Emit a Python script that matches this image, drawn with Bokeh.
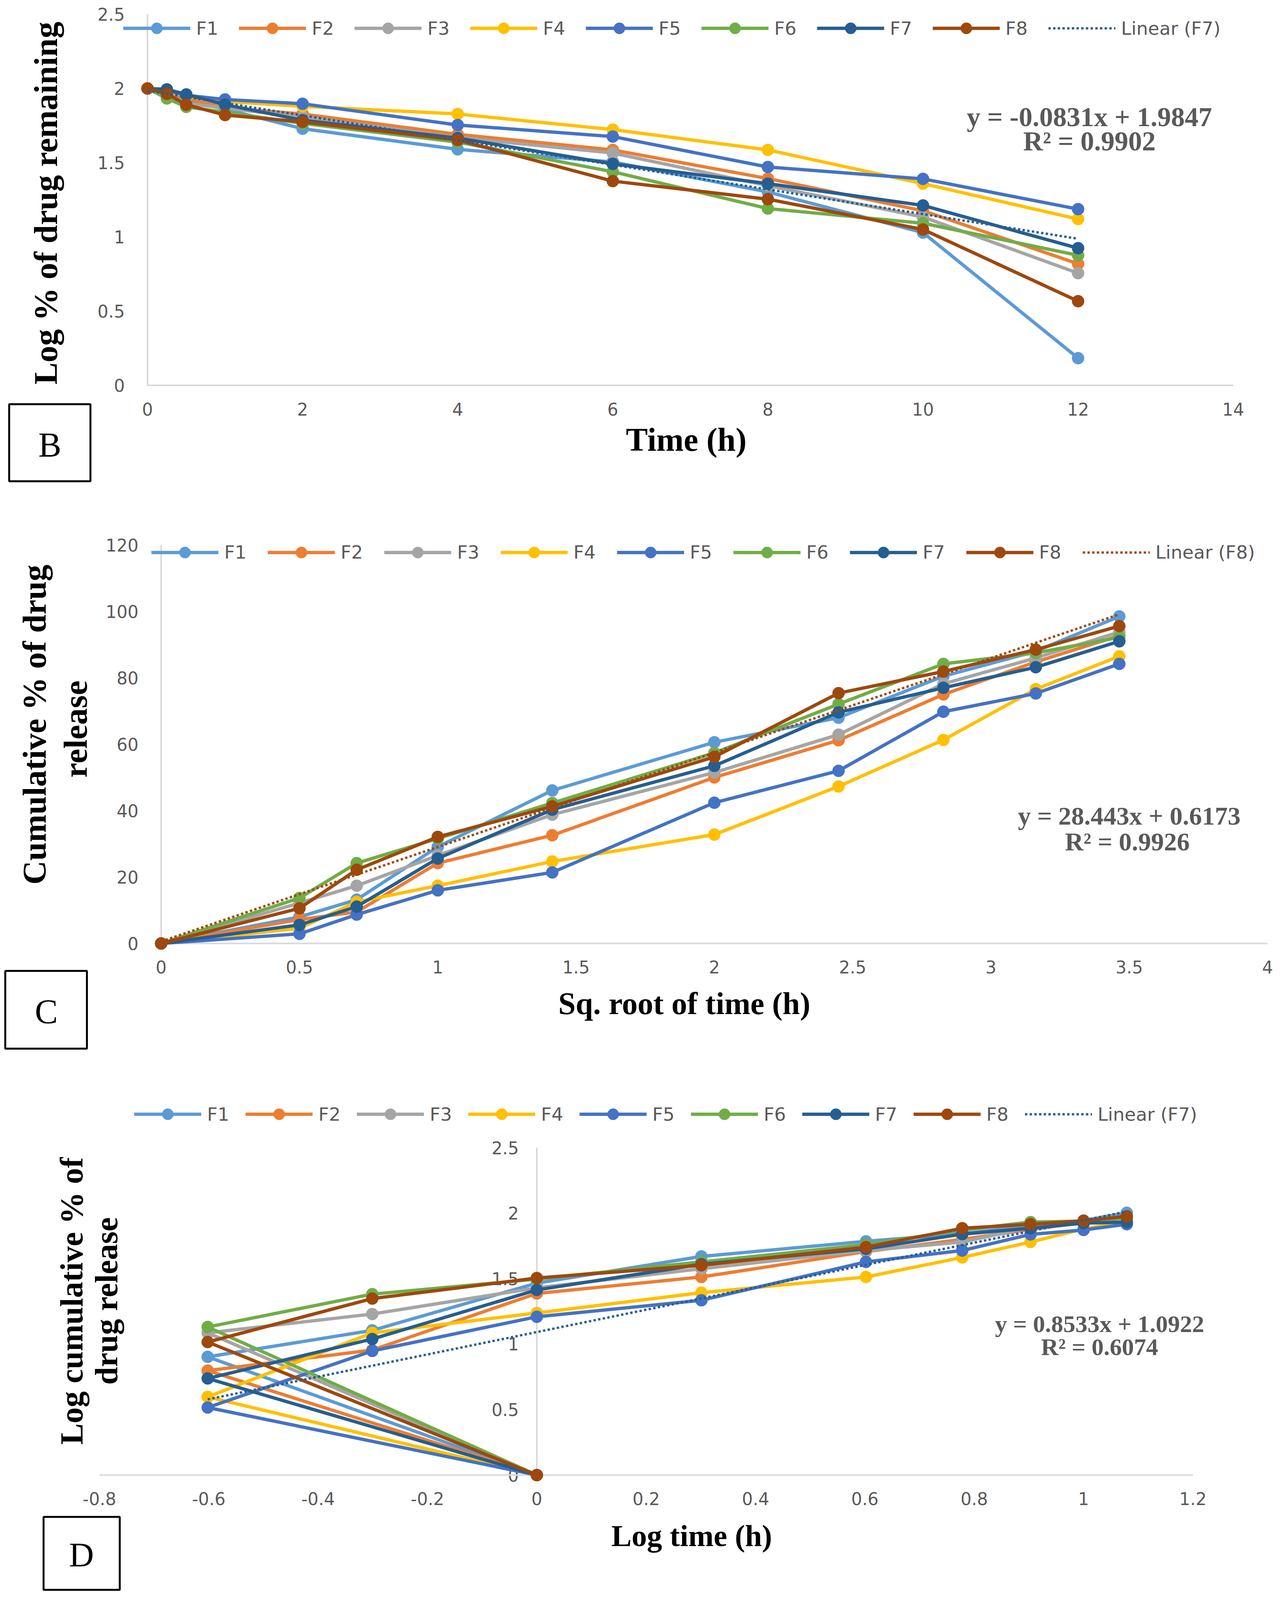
import math
from bokeh.plotting import figure
from bokeh.models import (Legend, LegendItem, Label, LabelSet, BoxAnnotation,
                          Range1d, ColumnDataSource)
from bokeh.layouts import column
from bokeh.embed import file_html
from bokeh.resources import INLINE
from bokeh.core.properties import value

SERIES = ["F1", "F2", "F3", "F4", "F5", "F6", "F7", "F8"]
COLORS = ["#5B9BD5", "#ED7D31", "#A5A5A5", "#FFC000", "#4472C4", "#70AD47", "#255E91", "#9E480E"]

# ---------------- Panel B : first order ----------------
b_time = [0, 0.25, 0.5, 1, 2, 4, 6, 8, 10, 12]
b_F1 = [2.0, 1.975, 1.922, 1.860, 1.729, 1.590, 1.505, 1.303, 1.029, 0.183]
b_F2 = [2.0, 1.975, 1.933, 1.870, 1.828, 1.691, 1.586, 1.393, 1.176, 0.819]
b_F3 = [2.0, 1.954, 1.900, 1.868, 1.807, 1.670, 1.565, 1.345, 1.134, 0.756]
b_F4 = [2.0, 1.980, 1.948, 1.912, 1.880, 1.828, 1.723, 1.586, 1.359, 1.120]
b_F5 = [2.0, 1.985, 1.954, 1.926, 1.897, 1.754, 1.676, 1.471, 1.391, 1.187]
b_F6 = [2.0, 1.933, 1.876, 1.840, 1.765, 1.639, 1.439, 1.191, 1.092, 0.876]
b_F7 = [2.0, 1.994, 1.960, 1.891, 1.786, 1.666, 1.492, 1.359, 1.212, 0.924]
b_F8 = [2.0, 1.964, 1.891, 1.821, 1.775, 1.653, 1.376, 1.254, 1.050, 0.567]
b_fit_slope, b_fit_icpt = -0.0831, 1.9847
b_fit_text = ["y = -0.0831x + 1.9847", "R\u00b2 = 0.9902"]
b_fit_name = "Linear (F7)"
b_xlim = (0, 14)
b_ylim = (0, 2.5)
b_yaxis_at = 0
b_xticks = [0, 2, 4, 6, 8, 10, 12, 14]
b_xlabels = ["0", "2", "4", "6", "8", "10", "12", "14"]
b_yticks = [0, 0.5, 1, 1.5, 2, 2.5]
b_ylabels = ["0", "0.5", "1", "1.5", "2", "2.5"]
b_xtitle = "Time (h)"
b_ytitle = ["Log % of drug remaining"]

# ---------------- Panel C : Higuchi ----------------
c_sqrt_time = [0, 0.5, 0.707, 1, 1.414, 2, 2.449, 2.828, 3.162, 3.464]
c_F1 = [0, 8.0, 13.2, 29.1, 46.1, 60.6, 68.0, 80.5, 88.0, 98.5]
c_F2 = [0, 7.2, 9.5, 24.2, 32.6, 50.0, 61.2, 75.0, 84.8, 92.7]
c_F3 = [0, 12.2, 17.4, 26.5, 38.8, 51.5, 62.9, 78.2, 86.0, 93.8]
c_F4 = [0, 4.6, 12.5, 17.4, 24.7, 32.8, 47.3, 61.3, 76.6, 86.5]
c_F5 = [0, 2.9, 8.7, 16.0, 21.4, 42.4, 52.0, 69.8, 75.3, 84.2]
c_F6 = [0, 13.7, 24.2, 31.6, 42.3, 57.4, 72.1, 84.2, 87.5, 92.2]
c_F7 = [0, 5.6, 11.1, 25.6, 40.3, 53.5, 69.6, 77.0, 83.2, 91.0]
c_F8 = [0, 10.6, 22.2, 32.1, 41.3, 56.2, 75.4, 81.9, 88.5, 95.6]
c_fit_slope, c_fit_icpt = 28.443, 0.6173
c_fit_text = ["y = 28.443x + 0.6173", "R\u00b2 = 0.9926"]
c_fit_name = "Linear (F8)"
c_xlim = (0, 4)
c_ylim = (0, 120)
c_yaxis_at = 0
c_xticks = [0, 0.5, 1, 1.5, 2, 2.5, 3, 3.5, 4]
c_xlabels = ["0", "0.5", "1", "1.5", "2", "2.5", "3", "3.5", "4"]
c_yticks = [0, 20, 40, 60, 80, 100, 120]
c_ylabels = ["0", "20", "40", "60", "80", "100", "120"]
c_xtitle = "Sq. root of time (h)"
c_ytitle = ["Cumulative % of drug", "release"]

# ---------------- Panel D : Korsmeyer-Peppas ----------------
d_log_time = [0, -0.602, -0.301, 0, 0.301, 0.602, 0.778, 0.903, 1.0, 1.079]
d_F1 = [0, 0.903, 1.105, 1.466, 1.670, 1.785, 1.845, 1.905, 1.944, 2.003]
d_F2 = [0, 0.798, 0.955, 1.387, 1.513, 1.707, 1.800, 1.876, 1.928, 1.967]
d_F3 = [0, 1.086, 1.230, 1.430, 1.576, 1.715, 1.780, 1.893, 1.934, 1.963]
d_F4 = [0, 0.597, 1.086, 1.238, 1.393, 1.513, 1.662, 1.780, 1.880, 1.935]
d_F5 = [0, 0.516, 0.948, 1.209, 1.335, 1.628, 1.715, 1.838, 1.872, 1.916]
d_F6 = [0, 1.131, 1.382, 1.497, 1.628, 1.760, 1.872, 1.932, 1.940, 1.963]
d_F7 = [0, 0.738, 1.039, 1.414, 1.610, 1.728, 1.840, 1.885, 1.924, 1.932]
d_F8 = [0, 1.016, 1.348, 1.505, 1.602, 1.741, 1.885, 1.916, 1.942, 1.976]
d_fit_slope, d_fit_icpt = 0.8533, 1.0922
d_fit_text = ["y = 0.8533x + 1.0922", "R\u00b2 = 0.6074"]
d_fit_name = "Linear (F7)"
d_xlim = (-0.8, 1.2)
d_ylim = (0, 2.5)
d_yaxis_at = 0
d_xticks = [-0.8, -0.6, -0.4, -0.2, 0, 0.2, 0.4, 0.6, 0.8, 1, 1.2]
d_xlabels = ["-0.8", "-0.6", "-0.4", "-0.2", "0", "0.2", "0.4", "0.6", "0.8", "1", "1.2"]
d_yticks = [0, 0.5, 1, 1.5, 2, 2.5]
d_ylabels = ["0", "0.5", "1", "1.5", "2", "2.5"]
d_xtitle = "Log time (h)"
d_ytitle = ["Log cumulative % of", "drug release"]

# ---------------- styling / layout ----------------
TICK_FONT = "DejaVu Sans"
SERIF = "Liberation Serif"
GREY = "#595959"
AXIS_COL = "#D9D9D9"
LW = 8.5
MS = 31
W = 3268
VS = 0.948          # vertical compression so that the whole page fits the visible window


class Panel:
    def __init__(self, H, frame, xlim, ylim, yaxis_at, xticks, xlabels, yticks, ylabels,
                 xs, ys_list, fit, fit_color, fit_name, legend_start, legend_cy,
                 legend_spacing, ylab_offset):
        L, R, T, Bm = frame
        self.H = round(H * VS)
        T, Bm = T * VS, Bm * VS
        self.L, self.Bm = L, Bm
        self.xlim, self.ylim = xlim, ylim
        self.kx = (xlim[1] - xlim[0]) / (R - L)
        self.ky = (ylim[1] - ylim[0]) / (Bm - T)
        xr = Range1d(xlim[0] - L * self.kx, xlim[1] + (W - R) * self.kx)
        yr = Range1d(ylim[0] - (self.H - Bm) * self.ky, ylim[1] + T * self.ky)
        p = figure(width=W, height=self.H, output_backend="svg", toolbar_location=None,
                   x_range=xr, y_range=yr, x_axis_location=None, y_axis_location=None,
                   min_border=0, min_border_left=0, min_border_right=0,
                   min_border_top=0, min_border_bottom=0)
        p.outline_line_color = None
        p.grid.visible = False
        p.background_fill_color = "white"
        self.p = p

        # axis lines
        p.line(list(xlim), [ylim[0], ylim[0]], line_color=AXIS_COL, line_width=4)
        p.line([yaxis_at, yaxis_at], list(ylim), line_color=AXIS_COL, line_width=4)

        # tick labels
        xsrc = ColumnDataSource(dict(x=xticks, y=[ylim[0]] * len(xticks), t=xlabels))
        p.add_layout(LabelSet(x="x", y="y", text="t", source=xsrc, y_offset=-64 * VS,
                              text_align="center", text_baseline="middle",
                              text_font=value(TICK_FONT), text_font_size=value("44px"),
                              text_color=value(GREY)))
        ysrc = ColumnDataSource(dict(x=[yaxis_at] * len(yticks), y=yticks, t=ylabels))
        p.add_layout(LabelSet(x="x", y="y", text="t", source=ysrc, x_offset=-ylab_offset,
                              text_align="right", text_baseline="middle", level="underlay",
                              text_font=value(TICK_FONT), text_font_size=value("44px"),
                              text_color=value(GREY)))

        items = []
        for name, col, ys in zip(SERIES, COLORS, ys_list):
            lr = p.line(xs, ys, line_color=col, line_width=LW, line_join="round")
            sr = p.scatter(xs, ys, marker="circle", size=MS, fill_color=col, line_color=col)
            items.append(LegendItem(label=name, renderers=[lr, sr]))

        fxs = [min(xs), max(xs)]
        fys = [fit[0] * v + fit[1] for v in fxs]
        tr = p.line(fxs, fys, line_color=fit_color, line_width=6, line_dash="6 6")
        items.append(LegendItem(label=fit_name, renderers=[tr]))

        gh = 72
        legend = Legend(items=items, orientation="horizontal",
                        location=(legend_start, (self.H - legend_cy * VS) - gh / 2),
                        glyph_width=172, glyph_height=gh, label_height=gh,
                        label_standoff=15, spacing=legend_spacing, padding=0, margin=0,
                        border_line_color=None, background_fill_alpha=0,
                        label_text_font=TICK_FONT, label_text_font_size="47px",
                        label_text_color=GREY)
        p.add_layout(legend)

    def xd(self, fx):
        return self.xlim[0] + (fx - self.L) * self.kx

    def yd(self, fy):
        return self.ylim[0] + (self.Bm - fy * VS) * self.ky

    def label(self, fx, fy, text, size, bold=True, color="black", angle=0.0, font=SERIF):
        self.p.add_layout(Label(x=self.xd(fx), y=self.yd(fy), text=text, angle=angle,
                                text_font=font, text_font_size=f"{size}px",
                                text_font_style="bold" if bold else "normal",
                                text_color=color, text_align="center",
                                text_baseline="middle"))

    def box(self, l, r, t, b, letter, cx, cy):
        self.p.add_layout(BoxAnnotation(left=self.xd(l), right=self.xd(r),
                                        top=self.yd(t), bottom=self.yd(b),
                                        fill_alpha=0, line_color="black", line_alpha=1.0,
                                        line_width=5))
        self.label(cx, cy, letter, 88, bold=False)


ROT = math.pi / 2

# Panel B
B = Panel(1332, (377, 3156, 38, 1040), b_xlim, b_ylim, b_yaxis_at,
          b_xticks, b_xlabels, b_yticks, b_ylabels, b_time,
          [b_F1, b_F2, b_F3, b_F4, b_F5, b_F6, b_F7, b_F8],
          (b_fit_slope, b_fit_icpt), COLORS[6], b_fit_name, 315, 76, 52, 58)
B.label(116, 548, b_ytitle[0], 85, angle=ROT)
B.label(1756, 1187, b_xtitle, 84)
B.label(2788, 315, b_fit_text[0], 70, color=GREY)
B.label(2788, 381, b_fit_text[1], 70, color=GREY)
B.box(23, 231, 1091, 1299, "B", 127, 1200)

# Panel C
C = Panel(1530, (412, 3244, 139, 1215), c_xlim, c_ylim, c_yaxis_at,
          c_xticks, c_xlabels, c_yticks, c_ylabels, c_sqrt_time,
          [c_F1, c_F2, c_F3, c_F4, c_F5, c_F6, c_F7, c_F8],
          (c_fit_slope, c_fit_icpt), COLORS[7], c_fit_name, 387, 159, 54, 58)
C.label(87, 624, c_ytitle[0], 85, angle=ROT)
C.label(192, 636, c_ytitle[1], 85, angle=ROT)
C.label(1751, 1377, c_xtitle, 80)
C.label(2890, 870, c_fit_text[0], 66, color=GREY)
C.label(2885, 940, c_fit_text[1], 66, color=GREY)
C.box(13, 222, 1289, 1499, "C", 118, 1399)

# Panel D
D = Panel(1454, (254, 3053, 237, 1121), d_xlim, d_ylim, d_yaxis_at,
          d_xticks, d_xlabels, d_yticks, d_ylabels, d_log_time,
          [d_F1, d_F2, d_F3, d_F4, d_F5, d_F6, d_F7, d_F8],
          (d_fit_slope, d_fit_icpt), COLORS[6], d_fit_name, 343, 147, 41, 46)
D.label(183, 651, d_ytitle[0], 82, angle=ROT)
D.label(272, 651, d_ytitle[1], 82, angle=ROT)
D.label(1770, 1285, d_xtitle, 78)
D.label(2814, 713, d_fit_text[0], 62, color=GREY)
D.label(2814, 775, d_fit_text[1], 62, color=GREY)
D.box(111, 306, 1234, 1431, "D", 208, 1336)

layout = column(B.p, C.p, D.p)
open("out.html", "w").write(file_html(layout, INLINE))
